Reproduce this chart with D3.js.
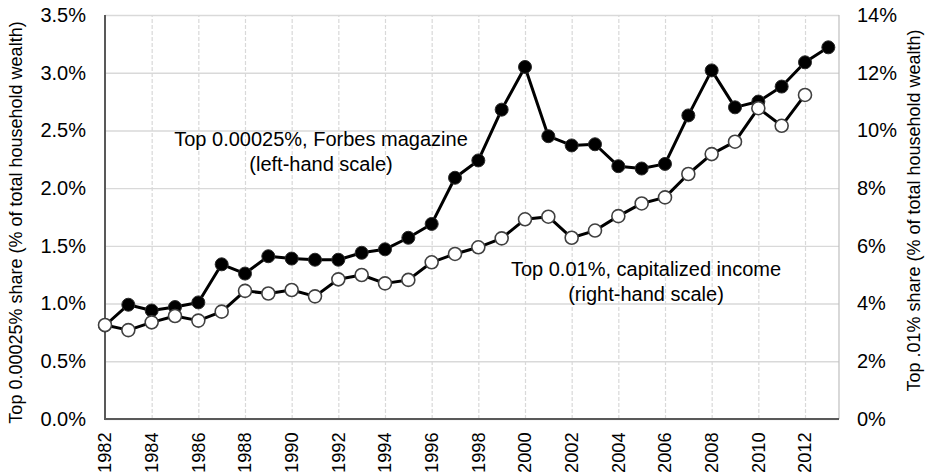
<!DOCTYPE html>
<html>
<head>
<meta charset="utf-8">
<script src="https://cdn.jsdelivr.net/npm/d3@7/dist/d3.min.js"></script>
<style>
  html, body { margin: 0; padding: 0; background: #fff; }
  svg { display: block; font-family: "Liberation Sans", Arial, sans-serif; }
</style>
</head>
<body>
<svg id="chart" width="925" height="474"></svg>
<script>
// ---- data ----
const years = [1982,1983,1984,1985,1986,1987,1988,1989,1990,1991,1992,1993,1994,1995,1996,1997,
               1998,1999,2000,2001,2002,2003,2004,2005,2006,2007,2008,2009,2010,2011,2012,2013];
// Top 0.00025%, Forbes magazine (left-hand scale, %)
const forbes = [0.81,0.99,0.94,0.97,1.01,1.34,1.26,1.41,1.39,1.38,1.38,1.44,1.47,1.57,1.69,2.09,
                2.24,2.68,3.05,2.45,2.37,2.38,2.19,2.17,2.21,2.63,3.02,2.70,2.75,2.88,3.09,3.22];
// Top 0.01%, capitalized income (right-hand scale, %)
const capIncome = [3.26,3.08,3.35,3.57,3.41,3.72,4.44,4.35,4.47,4.25,4.84,4.99,4.70,4.82,5.43,5.72,
                   5.95,6.26,6.92,7.01,6.28,6.53,7.03,7.47,7.68,8.49,9.18,9.61,10.77,10.16,11.23,null];
const leftTicks = [0,0.5,1.0,1.5,2.0,2.5,3.0,3.5];
const rightTicks = [0,2,4,6,8,10,12,14];
const xTicks = [1982,1984,1986,1988,1990,1992,1994,1996,1998,2000,2002,2004,2006,2008,2010,2012];
const leftTitle = "Top 0.00025% share (% of total household wealth)";
const rightTitle = "Top .01% share (% of total household wealth)";
const forbesLabel = ["Top 0.00025%, Forbes magazine", "(left-hand scale)"];
const capLabel = ["Top 0.01%, capitalized income", "(right-hand scale)"];

// ---- layout ----
const L = 105, R = 839, T = 15, B = 419;
const svg = d3.select("#chart");

const x = d3.scaleLinear().domain([1982, 2013.457]).range([L, R]);
const yL = d3.scaleLinear().domain([0, 3.5]).range([B, T]);
const yR = d3.scaleLinear().domain([0, 14]).range([B, T]);

// horizontal gridlines
svg.append("g")
  .attr("transform", `translate(${L},0)`)
  .call(d3.axisLeft(yL).tickValues(leftTicks).tickSize(-(R - L)).tickFormat(""))
  .call(g => g.select(".domain").remove())
  .call(g => g.selectAll("line").attr("stroke", "#d9d9d9").attr("stroke-width", 1.4));

// vertical dashed gridlines
svg.append("g")
  .attr("transform", `translate(0,${B})`)
  .call(d3.axisBottom(x).tickValues(xTicks.filter(v => v !== 1982)).tickSize(-(B - T)).tickFormat(""))
  .call(g => g.select(".domain").remove())
  .call(g => g.selectAll("line").attr("stroke", "#d9d9d9").attr("stroke-width", 1.2)
                .attr("stroke-dasharray", "4,2"));

// right border
svg.append("line").attr("x1", R).attr("x2", R).attr("y1", T).attr("y2", B)
  .attr("stroke", "#bfbfbf").attr("stroke-width", 1.2);

// axes lines
svg.append("line").attr("x1", L).attr("x2", L).attr("y1", T).attr("y2", B + 1)
  .attr("stroke", "#595959").attr("stroke-width", 2);
svg.append("line").attr("x1", L - 1).attr("x2", R).attr("y1", B).attr("y2", B)
  .attr("stroke", "#595959").attr("stroke-width", 2);

// left tick labels
svg.append("g")
  .attr("transform", `translate(${L},0)`)
  .call(d3.axisLeft(yL).tickValues(leftTicks).tickSize(0).tickPadding(19)
        .tickFormat(d => d3.format(".1f")(d) + "%"))
  .call(g => g.select(".domain").remove())
  .call(g => g.selectAll("text").attr("font-size", 20).attr("fill", "#000")
                .attr("font-family", "Liberation Sans, Arial, sans-serif"));

// right tick labels
svg.append("g")
  .attr("transform", `translate(${R},0)`)
  .call(d3.axisRight(yR).tickValues(rightTicks).tickSize(0).tickPadding(18)
        .tickFormat(d => d + "%"))
  .call(g => g.select(".domain").remove())
  .call(g => g.selectAll("text").attr("font-size", 20).attr("fill", "#000")
                .attr("font-family", "Liberation Sans, Arial, sans-serif"));

// x tick labels (rotated)
svg.append("g").selectAll("text").data(xTicks).join("text")
  .attr("transform", d => `translate(${x(d)},432.5) rotate(-90)`)
  .attr("dy", "0.35em")
  .attr("text-anchor", "end")
  .attr("font-size", 18.2)
  .attr("fill", "#000")
  .text(d => d);

// axis titles
svg.append("text")
  .attr("transform", `translate(21.5,222.5) rotate(-90)`)
  .attr("text-anchor", "middle").attr("font-size", 18).attr("fill", "#000")
  .text(leftTitle);
svg.append("text")
  .attr("transform", `translate(919.5,210.5) rotate(-90)`)
  .attr("text-anchor", "middle").attr("font-size", 18).attr("fill", "#000")
  .text(rightTitle);

// series: Forbes (left scale)
const fData = years.map((yr, i) => ({yr, v: forbes[i]})).filter(d => d.v != null);
const cData = years.map((yr, i) => ({yr, v: capIncome[i]})).filter(d => d.v != null);

svg.append("path").datum(fData)
  .attr("fill", "none").attr("stroke", "#000").attr("stroke-width", 3)
  .attr("stroke-linejoin", "round")
  .attr("d", d3.line().x(d => x(d.yr)).y(d => yL(d.v)));
svg.append("g").selectAll("circle").data(fData).join("circle")
  .attr("cx", d => x(d.yr)).attr("cy", d => yL(d.v)).attr("r", 6.5)
  .attr("fill", "#000").attr("stroke", "#2b2b2b").attr("stroke-width", 1);

// series: capitalized income (right scale)
svg.append("path").datum(cData)
  .attr("fill", "none").attr("stroke", "#000").attr("stroke-width", 3)
  .attr("stroke-linejoin", "round")
  .attr("d", d3.line().x(d => x(d.yr)).y(d => yR(d.v)));
svg.append("g").selectAll("circle").data(cData).join("circle")
  .attr("cx", d => x(d.yr)).attr("cy", d => yR(d.v)).attr("r", 6.5)
  .attr("fill", "#fff").attr("stroke", "#404040").attr("stroke-width", 1.6);

// annotations
function annotate(lines, cx, y0) {
  svg.append("g").selectAll("text").data(lines).join("text")
    .attr("x", cx).attr("y", (d, i) => y0 + i * 25)
    .attr("text-anchor", "middle").attr("font-size", 20).attr("fill", "#000")
    .text(d => d);
}
annotate(forbesLabel, 321, 145.7);
annotate(capLabel, 646, 276);
</script>
</body>
</html>
